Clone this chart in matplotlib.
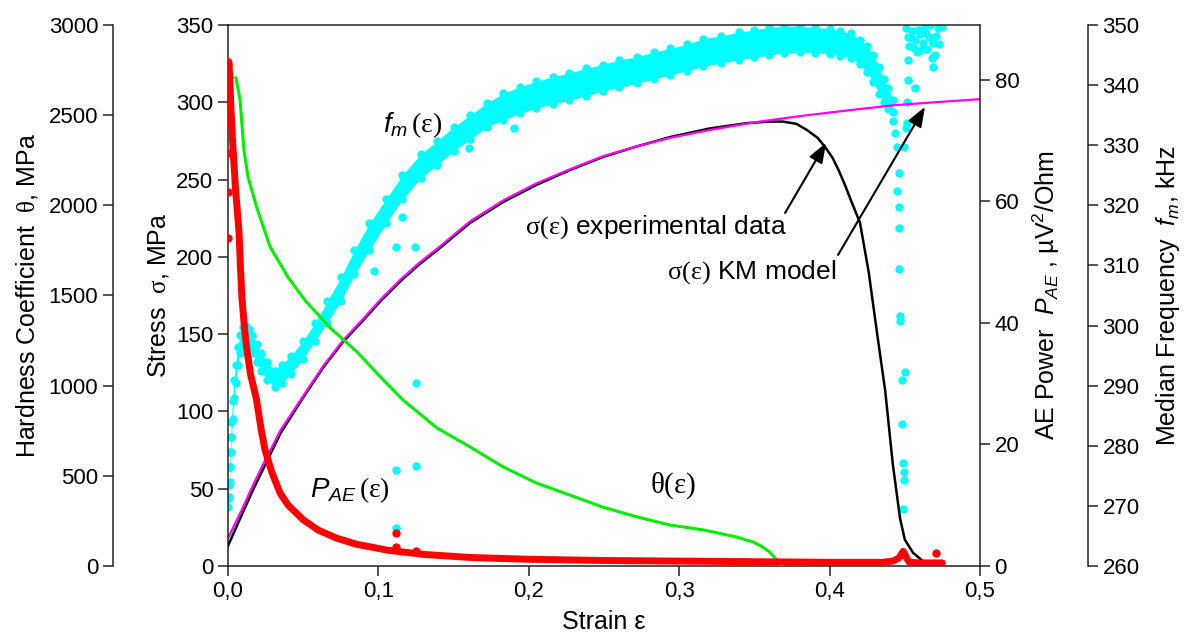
import numpy as np
import matplotlib
matplotlib.use('Agg')
import matplotlib.pyplot as plt

# fonts: Arial-like text, Times-like greek inside math
plt.rcParams['font.family'] = 'Liberation Sans'
plt.rcParams['mathtext.fontset'] = 'custom'
plt.rcParams['mathtext.rm'] = 'Liberation Serif'
plt.rcParams['mathtext.it'] = 'Liberation Sans:italic'
plt.rcParams['mathtext.sf'] = 'Liberation Sans'

############## DATA ##############

# stress, MPa  -- experimental (black) and KM model (magenta)
strain_exp = [0.0, 0.005, 0.01, 0.017, 0.024, 0.035, 0.05, 0.063, 0.0765, 0.09, 0.102, 0.1144,
              0.127, 0.14, 0.161, 0.183, 0.205, 0.227, 0.249, 0.272, 0.294, 0.32, 0.345,
              0.36, 0.369, 0.378, 0.385, 0.392, 0.397, 0.402, 0.406, 0.41, 0.414, 0.4202,
              0.426, 0.4315, 0.437, 0.442, 0.4468, 0.45, 0.4555, 0.461, 0.4668]
stress_exp = [13, 24, 35, 50, 64, 86, 109, 128, 145, 159, 172, 184,
              195, 205, 222, 235.5, 246.5, 256, 264.5, 271.5, 277.5, 283, 286.5,
              287.5, 287.5, 286, 282, 277, 271, 264, 256, 247, 237, 222,
              190, 151, 113, 66, 31, 17, 8.5, 4, 0]

strain_km = [0.0, 0.005, 0.01, 0.017, 0.024, 0.035, 0.05, 0.063, 0.0765, 0.09, 0.102, 0.1144,
             0.127, 0.14, 0.161, 0.183, 0.205, 0.227, 0.249, 0.272, 0.294, 0.32, 0.35,
             0.38, 0.41, 0.442, 0.47, 0.5]
stress_km = [18, 28, 38, 53, 67, 88, 110, 129, 146, 160, 173, 185,
             196, 206, 223, 236.5, 247.5, 256.5, 265, 271.5, 277, 282, 287,
             291, 294.5, 298, 300, 302]

# hardness coefficient theta, MPa (green)
strain_th = [0.0053, 0.008, 0.0106, 0.0133, 0.019, 0.028, 0.04, 0.051, 0.068, 0.0858, 0.1,
             0.1164, 0.139, 0.161, 0.183, 0.205, 0.227, 0.249, 0.272, 0.294, 0.316, 0.338,
             0.349, 0.355, 0.36, 0.364, 0.368]
theta = [2706, 2584, 2307, 2157, 1991, 1769, 1600, 1475, 1320, 1187, 1060,
         920, 765, 660, 549, 460, 394, 327, 272, 227, 200, 161,
         133, 108, 78, 42, 0]

# AE power, uV^2/Ohm (red)
strain_pae = [0.0005, 0.001, 0.0015, 0.002, 0.003, 0.004, 0.005, 0.006, 0.0073, 0.0083, 0.0093,
              0.011, 0.0126, 0.015, 0.019, 0.022, 0.0246, 0.029, 0.0346, 0.04, 0.05, 0.06,
              0.072, 0.085, 0.106, 0.13, 0.161, 0.2, 0.25, 0.3, 0.35, 0.4, 0.435, 0.442,
              0.446, 0.449, 0.451, 0.453, 0.46, 0.475]
pae = [83, 81, 78, 75, 70, 66, 62, 59, 55, 49, 44,
       39, 35.5, 31.5, 27.3, 22.5, 19.1, 15.5, 12, 10, 7.6, 5.9,
       4.6, 3.6, 2.6, 1.9, 1.4, 1.1, 0.9, 0.8, 0.7, 0.6, 0.6, 0.8,
       1.3, 2.4, 1.4, 0.6, 0.5, 0.5]
strain_pae_out = [0.0003, 0.0006, 0.0003, 0.0005, 0.0003, 0.0002, 0.0002, 0.0002, 0.112, 0.112, 0.125, 0.471]
pae_out = [82.6, 80.5, 78.8, 76.3, 72.5, 67.9, 61.5, 53.9, 5.4, 3.1, 2.5, 2.1]

# median frequency, kHz (cyan) - lower / upper edge of the dot cloud
strain_fm = [0.0003, 0.0006, 0.001, 0.0014, 0.0018, 0.0023, 0.003, 0.004, 0.005, 0.0065, 0.008,
             0.010, 0.012, 0.014, 0.016, 0.019, 0.022, 0.026, 0.031, 0.036, 0.042, 0.05,
             0.058, 0.066, 0.075, 0.084, 0.094, 0.105, 0.116, 0.128, 0.139, 0.15, 0.161,
             0.172, 0.183, 0.194, 0.205, 0.216, 0.227, 0.238, 0.249, 0.26, 0.272, 0.283,
             0.294, 0.305, 0.316, 0.328, 0.34, 0.35, 0.36, 0.37, 0.38, 0.39, 0.40, 0.407,
             0.414, 0.42, 0.425, 0.429, 0.433, 0.436, 0.439, 0.442]
fm_lo = [269.8, 271.5, 274, 276.5, 279, 281.5, 284.5, 288, 290.5, 293.5, 295.5,
         296.8, 297, 296.5, 295.5, 294, 292.5, 291, 289.8, 290.5, 292, 294.5,
         297.5, 300.5, 304, 308.5, 312.5, 317, 321, 324.5, 326.7, 329, 331,
         333, 334.2, 335.3, 336.2, 336.8, 337.5, 338.2, 339, 339.6, 340.3, 341,
         341.7, 342.4, 343.1, 343.7, 344.2, 344.6, 345, 345.3, 345.5, 345.4, 345.2, 344.9,
         344.5, 343.5, 342.2, 340.5, 338.5, 337.2, 336, 335.5]
fm_hi = [271.2, 273.5, 276.5, 279, 281.5, 284, 287.5, 291, 293.5, 296.5, 298.5,
         299.8, 300, 299.5, 298.5, 297, 295.5, 294, 292.5, 293.5, 295, 297.5,
         300.5, 304, 308, 312.5, 317, 321, 325, 328.5, 330.7, 333, 335,
         337, 338.6, 339.7, 340.6, 341.4, 342, 342.8, 343.4, 344.2, 344.7, 345.5,
         346.1, 346.8, 347.7, 348.2, 348.8, 349.2, 349.6, 349.8, 349.8, 349.6, 349.4, 349,
         348.6, 347.5, 346.5, 345, 343, 341, 339.5, 337.5]
# scattered dots away from the cloud
strain_fm_out = [0.097, 0.112, 0.112, 0.125, 0.125, 0.116, 0.112, 0.124, 0.19, 0.16,
                 0.442, 0.4435, 0.4448, 0.4495, 0.4508, 0.4515, 0.4461, 0.4448, 0.4461, 0.4461,
                 0.4461, 0.4468, 0.4468, 0.4501, 0.4481, 0.4481, 0.4488, 0.4495, 0.4495, 0.4488,
                 0.4515, 0.4522, 0.4568, 0.451, 0.452, 0.453, 0.455, 0.457, 0.458, 0.46,
                 0.462, 0.463, 0.465, 0.466, 0.467, 0.469, 0.47, 0.472, 0.474, 0.468,
                 0.469, 0.454, 0.456, 0.459, 0.461, 0.464, 0.471, 0.473, 0.475, 0.452]
fm_out = [309, 266.3, 276, 276.6, 290.4, 318, 313, 313, 332.9, 329.5,
          334, 332, 329.7, 329.7, 332.9, 333.7, 325.4, 322.3, 319.8, 316.3,
          309.4, 301.6, 300.8, 292.3, 291, 283.6, 277.1, 275.6, 274.3, 269.5,
          337.2, 340.8, 339.5, 349.5, 348, 346.5, 349, 347.5, 345.5, 348.5,
          347, 349.5, 346, 348, 350, 347, 345, 349.5, 350, 344.5,
          343, 347.8, 346.2, 349.2, 345.8, 348.6, 348.2, 346.8, 349.6, 344.2]

x_ticks = [0.0, 0.1, 0.2, 0.3, 0.4, 0.5]
x_ticklabels = ['0,0', '0,1', '0,2', '0,3', '0,4', '0,5']

################## PLOT ###################
fs_tick = 16
fs_lab = 18
fs_ann = 19
fs_cap = 20

fig = plt.figure(figsize=(11.95, 6.37), dpi=100)
ax = fig.add_axes([0.1908, 0.1115, 0.6293, 0.8493])
ax_f = ax.twinx()
ax_ae = ax.twinx()
ax_h = ax.twinx()

ax_f.set_zorder(1)
ax.set_zorder(2)
ax_h.set_zorder(3)
ax_ae.set_zorder(4)
for a in (ax, ax_f, ax_ae, ax_h):
    a.patch.set_visible(False)
    a.tick_params(direction='out', length=7, width=1.1, labelsize=fs_tick, color='#222222')
    for sp in a.spines.values():
        sp.set_linewidth(1.1)
        sp.set_color('#222222')

# median frequency (cyan cloud)
ax_f.fill_between(strain_fm, fm_lo, fm_hi, color='#00FFFF', lw=0)
ax_f.plot(strain_fm, fm_lo, 'o', color='#00FFFF', ms=6, mew=0)
ax_f.plot(strain_fm, fm_hi, 'o', color='#00FFFF', ms=6, mew=0)
ax_f.plot(strain_fm_out, fm_out, 'o', color='#00FFFF', ms=6, mew=0)
ax_f.set_ylim(260, 350)
ax_f.set_yticks(np.arange(260, 351, 10))
ax_f.spines['right'].set_position(('axes', 1.1436))
for s in ('left', 'top', 'bottom'):
    ax_f.spines[s].set_visible(False)
ax_f.set_ylabel(r'Median Frequency  $f_m$, kHz', fontsize=fs_lab, labelpad=10)

# stress curves
ax.plot(strain_exp, stress_exp, color='black', lw=1.8)
ax.plot(strain_km, stress_km, color='#FF00FF', lw=1.6)
ax.set_xlim(0, 0.5)
ax.set_ylim(0, 350)
ax.set_xticks(x_ticks)
ax.set_xticklabels(x_ticklabels)
ax.set_yticks(np.arange(0, 351, 50))
ax.spines['right'].set_visible(False)
ax.set_xlabel('Strain ε', fontsize=fs_lab, labelpad=6)
ax.set_ylabel(r'Stress  $\mathrm{\sigma}$, MPa', fontsize=fs_lab, labelpad=4)

# hardness coefficient
ax_h.plot(strain_th, theta, color='#00EE00', lw=2.2)
ax_h.set_ylim(0, 3000)
ax_h.set_yticks(np.arange(0, 3001, 500))
ax_h.yaxis.tick_left()
ax_h.yaxis.set_label_position('left')
ax_h.spines['left'].set_position(('axes', -0.153))
for s in ('right', 'top', 'bottom'):
    ax_h.spines[s].set_visible(False)
ax_h.set_ylabel(r'Hardness Coefficient  $\mathrm{\theta}$, MPa', fontsize=fs_lab, labelpad=6)

# AE power
ax_ae.plot(strain_pae, pae, color='red', lw=5, solid_capstyle='round', solid_joinstyle='round')
ax_ae.plot(strain_pae_out, pae_out, 'o', color='red', ms=6, mew=0)
ax_ae.set_ylim(0, 89)
ax_ae.set_yticks([0, 20, 40, 60, 80])
for s in ('left', 'top', 'bottom'):
    ax_ae.spines[s].set_visible(False)
ax_ae.set_ylabel(r'AE Power  $P_{AE}$ , µV$^{\mathsf{2}}$/Ohm', fontsize=fs_lab, labelpad=8)

# curve captions
ax.text(0.123, 285, r'$f_m\,\mathrm{(\varepsilon)}$', fontsize=fs_cap, ha='center', va='center')
ax.text(0.081, 49, r'$P_{AE}\,\mathrm{(\varepsilon)}$', fontsize=fs_cap, ha='center', va='center')
ax.text(0.296, 52, r'$\mathrm{\theta(\varepsilon)}$', fontsize=fs_cap + 1, ha='center', va='center')

arrow = dict(arrowstyle='-|>,head_length=1.2,head_width=0.45', color='black', lw=1.5,
             shrinkA=0, shrinkB=0)
ax.annotate('', xy=(0.3976, 273.7), xytext=(0.3704, 228.4), arrowprops=arrow, zorder=5)
ax.annotate('', xy=(0.4634, 297), xytext=(0.4056, 201.2), arrowprops=arrow, zorder=5)
ax.text(0.1975, 219, r'$\mathrm{\sigma(\varepsilon)}$ experimental data', fontsize=fs_ann,
        ha='left', va='center')
ax.text(0.292, 190, r'$\mathrm{\sigma(\varepsilon)}$ KM model', fontsize=fs_ann,
        ha='left', va='center')

plt.savefig('out.png', dpi=100, facecolor='white')
